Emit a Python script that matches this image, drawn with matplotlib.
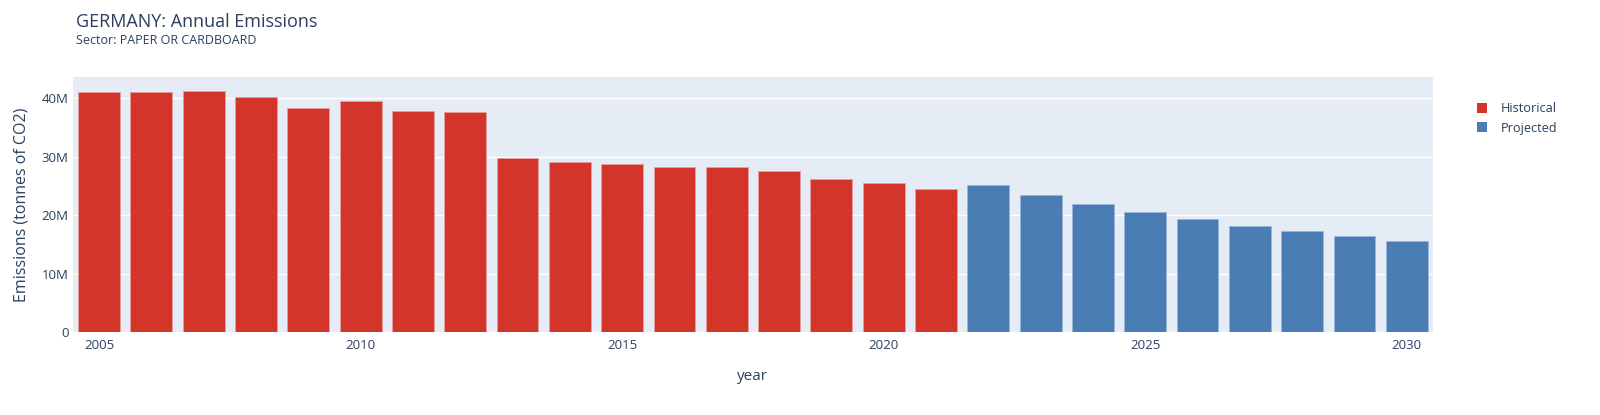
import numpy as np
import matplotlib
matplotlib.use("Agg")
import matplotlib.pyplot as plt
from matplotlib.ticker import FuncFormatter
from matplotlib.patches import Patch

hist_years = list(range(2005, 2022))
hist_vals = [41.0, 41.0, 41.2, 40.1, 38.3, 39.5, 37.8, 37.6, 29.8, 29.1,
             28.75, 28.2, 28.2, 27.5, 26.2, 25.5, 24.4]
proj_years = list(range(2022, 2031))
proj_vals = [25.2, 23.4, 21.9, 20.5, 19.3, 18.2, 17.2, 16.4, 15.6]

RED = "#d3352a"
BLUE = "#4a7db4"
TXT = "#2a3f5f"

plt.rcParams["font.family"] = ["Open Sans", "DejaVu Sans"]

fig = plt.figure(figsize=(16, 4.15), dpi=100)
ax = fig.add_axes([0.0456, 0.2, 0.85, 0.6145])
ax.set_facecolor("#e5ecf6")

ax.bar(hist_years, np.array(hist_vals) * 1e6, width=0.8, color=RED,
       edgecolor="#e8a29c", linewidth=0.5, zorder=2)
ax.bar(proj_years, np.array(proj_vals) * 1e6, width=0.8, color=BLUE,
       edgecolor="#9bb6d6", linewidth=0.5, zorder=2)

ax.set_xlim(2004.5, 2030.5)
ax.set_ylim(0, 43.6e6)
ax.set_yticks([0, 10e6, 20e6, 30e6, 40e6])
ax.yaxis.set_major_formatter(FuncFormatter(lambda v, p: "0" if v == 0 else f"{int(v / 1e6)}M"))
ax.set_xticks([2005, 2010, 2015, 2020, 2025, 2030])
ax.grid(axis="y", color="white", linewidth=1, zorder=1)
ax.set_axisbelow(True)
for s in ax.spines.values():
    s.set_visible(False)
ax.tick_params(length=0, labelsize=9.5, labelcolor=TXT)
ax.tick_params(axis="x", pad=5)
ax.tick_params(axis="y", pad=3)

ax.set_xlabel("year", fontsize=11, color=TXT, labelpad=12)
ax.set_ylabel("Emissions (tonnes of CO2)", fontsize=11.5, color=TXT, labelpad=9)

fig.text(76 / 1600, 1 - 22 / 415, "GERMANY: Annual Emissions", fontsize=13,
         color=TXT, va="center", ha="left")
fig.text(76 / 1600, 1 - 40 / 415, "Sector: PAPER OR CARDBOARD", fontsize=9,
         color=TXT, va="center", ha="left")

handles = [Patch(facecolor=RED, label="Historical"), Patch(facecolor=BLUE, label="Projected")]
fig.legend(handles=handles, loc="upper left", bbox_to_anchor=(1472 / 1600, 1 - 97 / 415),
           frameon=False, fontsize=9.2, labelcolor=TXT, handlelength=0.75, handleheight=0.8,
           handletextpad=1.1, labelspacing=0.5, borderaxespad=0)

fig.savefig("out.png", dpi=100)
